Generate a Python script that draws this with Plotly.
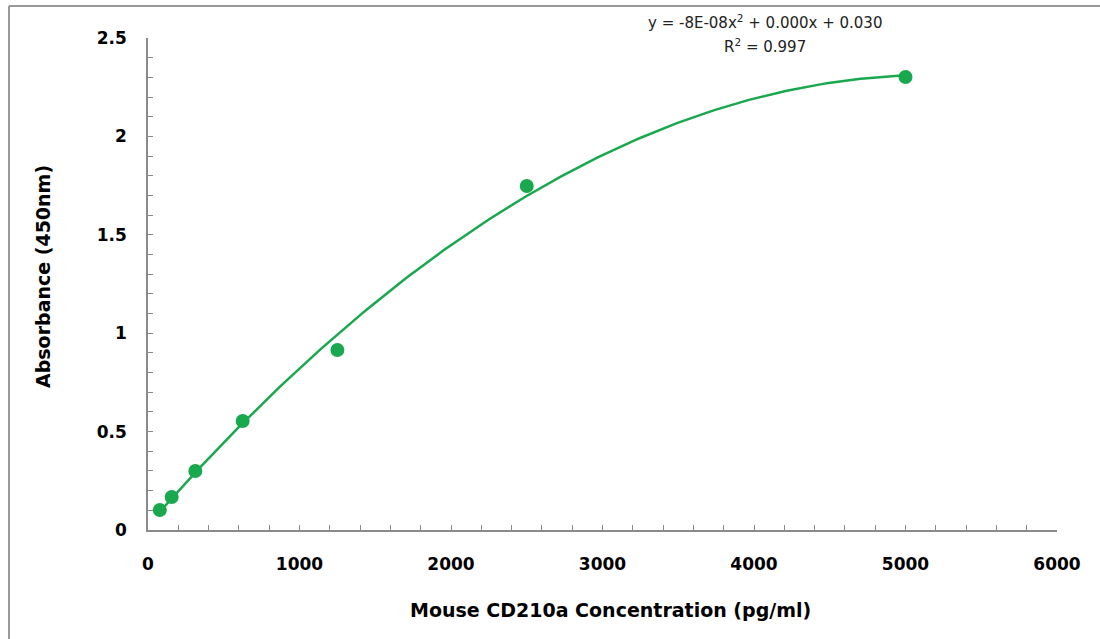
import numpy as np
import plotly.graph_objects as go

concentration = [78.125, 156.25, 312.5, 625, 1250, 2500, 5000]
absorbance = [0.102, 0.168, 0.300, 0.554, 0.915, 1.748, 2.302]
x_ticks = [0, 1000, 2000, 3000, 4000, 5000, 6000]
y_ticks = [0, 0.5, 1, 1.5, 2, 2.5]
y_tick_labels = ["0", "0.5", "1", "1.5", "2", "2.5"]
equation_text = "y = -8E-08x<sup>2</sup> + 0.000x + 0.030"
r2_text = "R<sup>2</sup> = 0.997"

green = "#1aa84f"
axis_gray = "#8a8a8a"

coef = np.polyfit(concentration, absorbance, 2)
xf = np.linspace(min(concentration), max(concentration), 200)
yf = np.polyval(coef, xf)

fig = go.Figure()
fig.add_trace(go.Scatter(x=xf, y=yf, mode="lines",
                         line=dict(color=green, width=2.5), hoverinfo="skip"))
fig.add_trace(go.Scatter(x=concentration, y=absorbance, mode="markers",
                         marker=dict(color=green, size=14)))

tickfont = dict(family="DejaVu Sans", size=17, color="black", weight="bold")
titlefont = dict(family="DejaVu Sans", size=19, color="black", weight="bold")

L, T, W, H = 148, 38, 909, 492

fig.update_layout(
    width=1100, height=639,
    margin=dict(l=L, r=1100 - L - W, t=T, b=639 - T - H),
    paper_bgcolor="white", plot_bgcolor="white",
    showlegend=False,
    xaxis=dict(range=[0, 6000], tickvals=x_ticks, ticks="inside", ticklen=5,
               tickcolor=axis_gray, showline=True, linecolor=axis_gray, linewidth=1.5,
               showgrid=False, zeroline=False, tickfont=tickfont,
               ticklabelstandoff=18,
               minor=dict(dtick=200, ticks="inside", ticklen=5, tickcolor=axis_gray, showgrid=False)),
    yaxis=dict(range=[0, 2.5], tickvals=y_ticks, ticktext=y_tick_labels, ticks="inside", ticklen=5,
               tickcolor=axis_gray, showline=True, linecolor=axis_gray, linewidth=1.5,
               showgrid=False, zeroline=False, tickfont=tickfont,
               ticklabelstandoff=16,
               minor=dict(dtick=0.1, ticks="inside", ticklen=5, tickcolor=axis_gray, showgrid=False)),
)

def px(xp):
    return (xp - L) / W

def py(yp):
    return (T + H - yp) / H

common = dict(xref="paper", yref="paper", showarrow=False, xanchor="center", yanchor="middle")

fig.add_annotation(x=px(610), y=py(610), text="Mouse CD210a Concentration (pg/ml)",
                   font=titlefont, **common)
fig.add_annotation(x=px(43), y=py(277), text="Absorbance (450nm)", textangle=-90,
                   font=titlefont, **common)

fig.add_annotation(x=px(765), y=py(22), text=equation_text,
                   font=dict(family="DejaVu Sans", size=15, color="#222"), **common)
fig.add_annotation(x=px(765), y=py(46), text=r2_text,
                   font=dict(family="DejaVu Sans", size=15, color="#222"), **common)

# chart-area border (top and left edges visible)
fig.add_shape(type="line", xref="paper", yref="paper",
              x0=px(9), x1=px(1100), y0=py(6), y1=py(6),
              line=dict(color="#999", width=2))
fig.add_shape(type="line", xref="paper", yref="paper",
              x0=px(9), x1=px(9), y0=py(6), y1=py(639),
              line=dict(color="#999", width=2))

fig.write_html("out.html", config={"displayModeBar": False},
               post_script="document.body.style.margin='0';document.body.style.overflow='hidden';")
